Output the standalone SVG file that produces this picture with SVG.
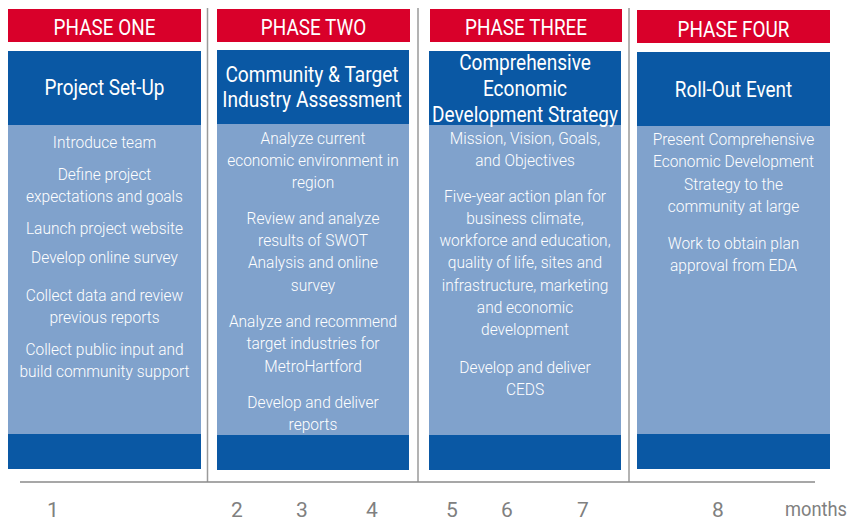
<svg xmlns="http://www.w3.org/2000/svg" width="849" height="521" viewBox="0 0 849 521">
<style>
.red{fill:#D9002A}
.dark{fill:#0A58A4}
.light{fill:#80A2CC}
.ttl{font-family:Roboto,"Liberation Sans",sans-serif;font-size:22px;fill:#fff;text-anchor:middle}
.hdr{font-family:Roboto,"Liberation Sans",sans-serif;font-size:21.5px;fill:#fff;text-anchor:middle}
.bd{font-family:Roboto,"Liberation Sans",sans-serif;font-weight:300;font-size:16.5px;fill:#fff;text-anchor:middle}
.num{font-family:Roboto,"Liberation Sans",sans-serif;font-size:21px;fill:#808080;text-anchor:middle}
.sep{stroke:#9a9a9a;stroke-width:1.5;fill:none}
.ax{stroke:#8a8a8a;stroke-width:1.5;fill:none}
</style>
<rect width="849" height="521" fill="#fff"/>
<g id="connectors">
<line class="sep" x1="207.5" y1="8" x2="207.5" y2="482"/>
<line class="sep" x1="418" y1="8" x2="418" y2="482"/>
<line class="sep" x1="629" y1="8" x2="629" y2="482"/>
<line class="ax" x1="20" y1="482" x2="815" y2="482"/>
</g>
<g id="phase1">
<rect class="red" x="8" y="9" width="193" height="33"/>
<rect class="dark" x="8" y="51" width="193" height="74"/>
<rect class="light" x="8" y="125" width="193" height="309"/>
<rect class="dark" x="8" y="434" width="193" height="35"/>
<g transform="translate(104.5,0) scale(0.86,1)">
<text class="ttl" x="0" y="35">PHASE ONE</text>
</g>
<g transform="translate(104.5,0) scale(0.88,1)">
<text class="hdr" x="0" y="95">Project Set-Up</text>
</g>
<g transform="translate(104.5,0) scale(0.94,1)">
<text class="bd" x="0" y="148">Introduce team</text>
<text class="bd" x="0" y="180">Define project</text>
<text class="bd" x="0" y="202">expectations and goals</text>
<text class="bd" x="0" y="234">Launch project website</text>
<text class="bd" x="0" y="263">Develop online survey</text>
<text class="bd" x="0" y="301">Collect data and review</text>
<text class="bd" x="0" y="323">previous reports</text>
<text class="bd" x="0" y="355">Collect public input and</text>
<text class="bd" x="0" y="377">build community support</text>
</g>
</g>
<g id="phase2">
<rect class="red" x="217" y="9" width="193" height="33"/>
<rect class="dark" x="217" y="50" width="192" height="74"/>
<rect class="light" x="217" y="124" width="192" height="311"/>
<rect class="dark" x="217" y="435" width="192" height="35"/>
<g transform="translate(313.5,0) scale(0.86,1)">
<text class="ttl" x="0" y="35">PHASE TWO</text>
</g>
<g transform="translate(312,0) scale(0.89,1)">
<text class="hdr" x="0" y="82">Community &amp; Target</text>
<text class="hdr" x="0" y="107">Industry Assessment</text>
</g>
<g transform="translate(313,0) scale(0.94,1)">
<text class="bd" x="0" y="144">Analyze current</text>
<text class="bd" x="0" y="166">economic environment in</text>
<text class="bd" x="0" y="188">region</text>
<text class="bd" x="0" y="224">Review and analyze</text>
<text class="bd" x="0" y="246">results of SWOT</text>
<text class="bd" x="0" y="268">Analysis and online</text>
<text class="bd" x="0" y="291">survey</text>
<text class="bd" x="0" y="327">Analyze and recommend</text>
<text class="bd" x="0" y="349">target industries for</text>
<text class="bd" x="0" y="372">MetroHartford</text>
<text class="bd" x="0" y="408">Develop and deliver</text>
<text class="bd" x="0" y="430">reports</text>
</g>
</g>
<g id="phase3">
<rect class="red" x="430" y="9" width="192" height="33"/>
<rect class="dark" x="429" y="51" width="192" height="74"/>
<rect class="light" x="429" y="125" width="192" height="310"/>
<rect class="dark" x="429" y="435" width="192" height="35"/>
<g transform="translate(526,0) scale(0.86,1)">
<text class="ttl" x="0" y="35">PHASE THREE</text>
</g>
<g transform="translate(525,0) scale(0.885,1)">
<text class="hdr" x="0" y="70">Comprehensive</text>
<text class="hdr" x="0" y="96">Economic</text>
<text class="hdr" x="0" y="122">Development Strategy</text>
</g>
<g transform="translate(525,0) scale(0.94,1)">
<text class="bd" x="0" y="144">Mission, Vision, Goals,</text>
<text class="bd" x="0" y="166">and Objectives</text>
<text class="bd" x="0" y="202">Five-year action plan for</text>
<text class="bd" x="0" y="224">business climate,</text>
<text class="bd" x="0" y="246">workforce and education,</text>
<text class="bd" x="0" y="268">quality of life, sites and</text>
<text class="bd" x="0" y="291">infrastructure, marketing</text>
<text class="bd" x="0" y="313">and economic</text>
<text class="bd" x="0" y="335">development</text>
<text class="bd" x="0" y="373">Develop and deliver</text>
<text class="bd" x="0" y="395">CEDS</text>
</g>
</g>
<g id="phase4">
<rect class="red" x="637" y="10" width="193" height="33"/>
<rect class="dark" x="637" y="52" width="193" height="74"/>
<rect class="light" x="637" y="126" width="193" height="308"/>
<rect class="dark" x="637" y="434" width="193" height="35"/>
<g transform="translate(733.5,0) scale(0.86,1)">
<text class="ttl" x="0" y="37">PHASE FOUR</text>
</g>
<g transform="translate(733.5,0) scale(0.88,1)">
<text class="hdr" x="0" y="97">Roll-Out Event</text>
</g>
<g transform="translate(733.5,0) scale(0.94,1)">
<text class="bd" x="0" y="145">Present Comprehensive</text>
<text class="bd" x="0" y="167">Economic Development</text>
<text class="bd" x="0" y="190">Strategy to the</text>
<text class="bd" x="0" y="212">community at large</text>
<text class="bd" x="0" y="249">Work to obtain plan</text>
<text class="bd" x="0" y="271">approval from EDA</text>
</g>
</g>
<g id="timeline">
<text class="num" x="53" y="516.5">1</text>
<text class="num" x="237" y="516.5">2</text>
<text class="num" x="302" y="516.5">3</text>
<text class="num" x="372" y="516.5">4</text>
<text class="num" x="452" y="516.5">5</text>
<text class="num" x="507" y="516.5">6</text>
<text class="num" x="583" y="516.5">7</text>
<text class="num" x="718" y="516.5">8</text>
<text class="num" transform="translate(816,0) scale(0.87,1)" x="0" y="516.5">months</text>
</g>
</svg>
